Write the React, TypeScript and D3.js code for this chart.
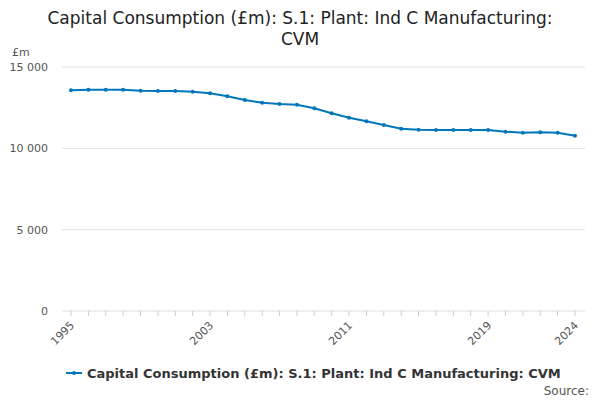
import React from 'react';
import * as d3 from 'd3';

const years = d3.range(1995, 2025);
const values = [13568, 13605, 13605, 13605, 13543, 13525, 13525, 13482, 13383, 13199, 12971, 12805, 12725, 12682, 12461, 12154, 11883, 11662, 11434, 11207, 11145, 11127, 11127, 11127, 11127, 11023, 10961, 10986, 10961, 10777];
const yTicks = [0, 5000, 10000, 15000];
const xTicks = [1995, 2003, 2011, 2019, 2024];
const seriesName = 'Capital Consumption (£m): S.1: Plant: Ind C Manufacturing: CVM';

const App: React.FC = () => {
  const x = d3.scaleLinear().domain([1995, 2024]).range([71, 575]);
  const y = d3.scaleLinear().domain([0, 15000]).range([311, 67]);
  const line = d3.line<number>().x((_, i) => x(years[i])).y(d => y(d));
  const fmt = (v: number) => d3.format(',')(v).replace(',', ' ');
  const font = "'DejaVu Sans', sans-serif";
  const blue = '#0077bb';

  return (
    <svg width={600} height={400} style={{ position: 'absolute', left: 0, top: 0, fontFamily: font }}>
      <text x={300} y={24} textAnchor="middle" fontSize={17} fill="#222">Capital Consumption (£m): S.1: Plant: Ind C Manufacturing:</text>
      <text x={300} y={45} textAnchor="middle" fontSize={17} fill="#222">CVM</text>
      <text x={12} y={56} fontSize={11} fill="#555">£m</text>
      {yTicks.map(t => (
        <g key={t}>
          <line x1={62} x2={585} y1={y(t)} y2={y(t)} stroke="#e0e0e0" />
          <text x={48} y={y(t) + 4} textAnchor="end" fontSize={11} fill="#555">{fmt(t)}</text>
        </g>
      ))}
      {years.map(yr => (
        <line key={yr} x1={x(yr)} x2={x(yr)} y1={311} y2={316} stroke="#ccc" />
      ))}
      {xTicks.map(t => (
        <text key={t} transform={`translate(${x(t) + 4},${326}) rotate(-45)`} textAnchor="end" fontSize={11} fill="#555">{t}</text>
      ))}
      <path d={line(values) ?? ''} fill="none" stroke={blue} strokeWidth={2} />
      {values.map((v, i) => (
        <circle key={i} cx={x(years[i])} cy={y(v)} r={2} fill={blue} />
      ))}
      <line x1={66} x2={82} y1={373} y2={373} stroke={blue} strokeWidth={2} />
      <circle cx={74} cy={373} r={2} fill={blue} />
      <text x={87} y={378} fontSize={13} fontWeight="bold" fill="#333">{seriesName}</text>
      <text x={589} y={395} textAnchor="end" fontSize={12} fill="#555">Source:</text>
    </svg>
  );
};

export default App;
